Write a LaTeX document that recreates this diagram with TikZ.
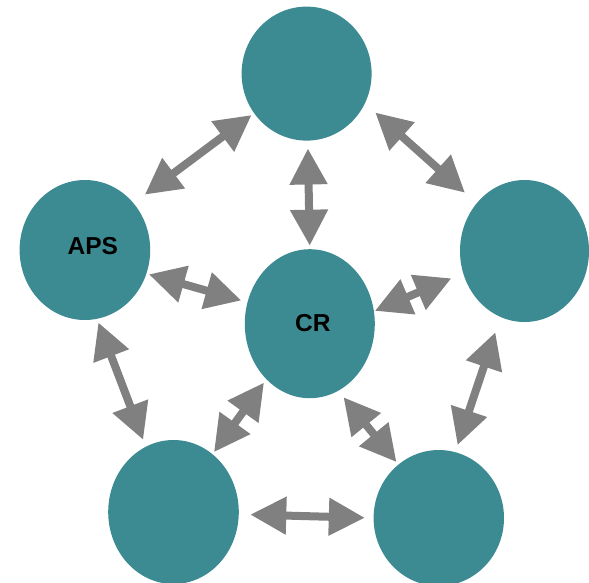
\documentclass[tikz,border=0pt]{standalone}
\usepackage{fontspec}
\setmainfont{Liberation Sans}
\usetikzlibrary{shapes.geometric,arrows.meta}
\definecolor{tealfill}{RGB}{61,139,146}
\definecolor{linkgray}{RGB}{128,128,128}
\tikzset{
  peer/.style={ellipse, fill=tealfill, draw=none, inner sep=0pt},
  tag/.style={font=\bfseries\fontsize{24.5}{26}\selectfont, text=black},
  biarrow/.style={draw=linkgray, line width=8pt,
    {Triangle[length=36pt,width=36pt]}-{Triangle[length=36pt,width=36pt]}}
}
\begin{document}
\begin{tikzpicture}[x=1pt,y=-1pt]
\useasboundingbox (0,0) rectangle (589,582);

% peers
\node[peer, minimum width=130pt, minimum height=134pt] (top) at (306.6,73.6) {};
\node[peer, minimum width=130.6pt, minimum height=140pt,
      label={[tag, xshift=8pt, yshift=3.5pt]center:APS}] (aps) at (84.9,250) {};
\node[peer, minimum width=130pt, minimum height=149pt,
      label={[tag, xshift=3pt, yshift=1pt]center:CR}] (cr) at (309.8,323.7) {};
\node[peer, minimum width=129pt, minimum height=142pt] (right) at (524.5,251) {};
\node[peer, minimum width=130.6pt, minimum height=144pt] (bl) at (173.5,512) {};
\node[peer, minimum width=130.4pt, minimum height=136pt] (br) at (438.8,518) {};

% two-way links
\draw[biarrow, shorten <=3pt, shorten >=14pt] (top.217.8) -- (aps.44.8);
\draw[biarrow, shorten <=7.7pt, shorten >=3.3pt] (top.271.6) -- (cr.90.8);
\draw[biarrow, shorten <=13.7pt, shorten >=15.6pt] (top.333.5) -- (right.135.1);
\draw[biarrow, shorten <=2.4pt, shorten >=6.3pt] (aps.339.9) -- (cr.161.2);
\draw[biarrow, shorten <=0.8pt, shorten >=12.7pt] (cr.11.1) -- (right.200.2);
\draw[biarrow, shorten <=3.7pt, shorten >=7.3pt] (aps.280.6) -- (bl.113.8);
\draw[biarrow, shorten <=4pt, shorten >=2.4pt] (cr.232.7) -- (bl.56.6);
\draw[biarrow, shorten <=8.2pt, shorten >=3pt] (cr.293.2) -- (br.127.6);
\draw[biarrow, shorten <=16pt, shorten >=7.3pt] (right.250.5) -- (br.76.5);
\draw[biarrow, shorten <=11.3pt, shorten >=8.6pt] (bl.358.1) -- (br.180.8);
\end{tikzpicture}
\end{document}
